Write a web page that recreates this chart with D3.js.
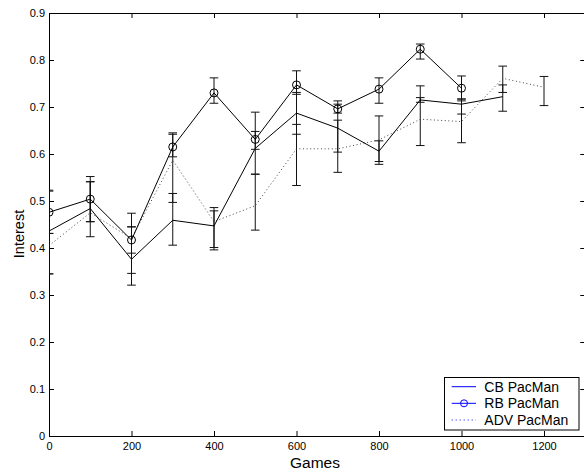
<!DOCTYPE html>
<html><head><meta charset="utf-8">
<script src="https://cdn.jsdelivr.net/npm/d3@7"></script>
<style>
html,body{margin:0;padding:0;background:#fff;}
svg{display:block;font-family:"Liberation Sans",Arial,Helvetica,sans-serif;}
</style></head>
<body><svg id="c" width="584" height="471"></svg>
<script>
// ---- data ----
const gamesCB  = [0,100,200,300,400,500,600,700,800,900,1000,1100];
const cbMean   = [0.436,0.484,0.376,0.459,0.447,0.612,0.687,0.655,0.606,0.715,0.706,0.722];
const cbLow    = [0.345,0.424,0.321,0.406,0.401,0.557,0.642,0.604,0.584,0.710,0.685,0.691];
const cbHigh   = [0.523,0.541,0.445,0.516,0.486,0.689,0.731,0.706,0.628,0.720,0.713,0.747];

const gamesRB  = [0,100,200,300,400,500,600,700,800,900,1000];
const rbMean   = [0.476,0.504,0.417,0.615,0.730,0.631,0.747,0.696,0.738,0.823,0.740];
const rbLow    = [0.431,0.456,0.346,0.594,0.708,0.610,0.727,0.687,0.708,0.802,0.717];
const rbHigh   = [0.521,0.552,0.474,0.645,0.762,0.648,0.777,0.713,0.762,0.834,0.766];

const gamesADV = [0,100,200,300,400,500,600,700,800,900,1000,1100,1200];
const advMean  = [0.405,0.475,0.420,0.587,0.456,0.490,0.611,0.611,0.630,0.674,0.669,0.761,0.742];
const advLow   = [0.345,0.456,0.389,0.497,0.396,0.438,0.533,0.561,0.578,0.618,0.624,0.731,0.703];
const advHigh  = [0.431,0.541,0.445,0.642,0.479,0.557,0.663,0.672,0.681,0.745,0.717,0.787,0.765];

const xTicks = [0,200,400,600,800,1000,1200];
const xTickLabels = ["0","200","400","600","800","1000","1200"];
const yTicks = [0,0.1,0.2,0.3,0.4,0.5,0.6,0.7,0.8,0.9];
const yTickLabels = ["0","0.1","0.2","0.3","0.4","0.5","0.6","0.7","0.8","0.9"];
const seriesNames = ["CB PacMan","RB PacMan","ADV PacMan"];

// ---- layout ----
const L = 49, R = 585.25, T = 13, B = 436;
const svg = d3.select("#c");
const x = d3.scaleLinear().domain([0,1300]).range([L,R]);
const y = d3.scaleLinear().domain([0,0.9]).range([B,T]);

svg.append("defs").append("clipPath").attr("id","clip")
  .append("rect").attr("x",L).attr("y",T).attr("width",R-L).attr("height",B-T);

// axes (box with inward ticks)
const fmtX = d => xTickLabels[xTicks.indexOf(d)];
const fmtY = d => yTickLabels[yTicks.findIndex(v => Math.abs(v-d)<1e-9)];
function styleAxis(g){
  g.selectAll(".domain").attr("stroke","#000").attr("stroke-width",1);
  g.selectAll(".tick line").attr("stroke","#000").attr("stroke-width",1);
  g.selectAll("text").attr("fill","#000").attr("font-size","11px")
   .attr("font-family","Liberation Sans, Arial, sans-serif");
}
svg.append("g").attr("transform",`translate(0,${B})`)
  .call(d3.axisBottom(x).tickValues(xTicks).tickFormat(fmtX).tickSize(-5).tickSizeOuter(0).tickPadding(6))
  .call(styleAxis);
svg.append("g").attr("transform",`translate(0,${T})`)
  .call(d3.axisTop(x).tickValues(xTicks).tickFormat("").tickSize(-5).tickSizeOuter(0))
  .call(styleAxis);
svg.append("g").attr("transform",`translate(${L},0)`)
  .call(d3.axisLeft(y).tickValues(yTicks).tickFormat(fmtY).tickSize(-5).tickSizeOuter(0).tickPadding(4))
  .call(styleAxis);
svg.append("g").attr("transform",`translate(${R},0)`)
  .call(d3.axisRight(y).tickValues(yTicks).tickFormat("").tickSize(-5).tickSizeOuter(0))
  .call(styleAxis);

// axis labels
svg.append("text").attr("x",315).attr("y",468).attr("text-anchor","middle")
  .attr("font-size","15.5px").attr("fill","#000").text("Games");
svg.append("text").attr("transform","translate(24,234) rotate(-90)").attr("text-anchor","middle")
  .attr("font-size","14.5px").attr("fill","#000").text("Interest");

// ---- data marks ----
const plot = svg.append("g").attr("clip-path","url(#clip)");
function rows(xs, m, lo, hi){ return xs.map((g,i)=>({g, m:m[i], lo:lo[i], hi:hi[i]})); }
const cb = rows(gamesCB, cbMean, cbLow, cbHigh);
const rb = rows(gamesRB, rbMean, rbLow, rbHigh);
const adv = rows(gamesADV, advMean, advLow, advHigh);
const line = d3.line().x(d=>x(d.g)).y(d=>y(d.m));
const cap = 4.3;

function errorBars(data){
  const g = plot.append("g").attr("stroke","#111").attr("stroke-width",1).attr("fill","none");
  data.forEach(d=>{
    g.append("line").attr("x1",x(d.g)).attr("x2",x(d.g)).attr("y1",y(d.lo)).attr("y2",y(d.hi));
    g.append("line").attr("x1",x(d.g)-cap).attr("x2",x(d.g)+cap).attr("y1",y(d.lo)).attr("y2",y(d.lo));
    g.append("line").attr("x1",x(d.g)-cap).attr("x2",x(d.g)+cap).attr("y1",y(d.hi)).attr("y2",y(d.hi));
  });
}
// ADV dotted
errorBars(adv);
plot.append("path").datum(adv).attr("d",line).attr("fill","none")
  .attr("stroke","#444").attr("stroke-width",1).attr("stroke-dasharray","1,2.6");
// CB solid
errorBars(cb);
plot.append("path").datum(cb).attr("d",line).attr("fill","none")
  .attr("stroke","#000").attr("stroke-width",1);
// RB solid with circles
errorBars(rb);
plot.append("path").datum(rb).attr("d",line).attr("fill","none")
  .attr("stroke","#000").attr("stroke-width",1);
plot.selectAll("circle.rb").data(rb).enter().append("circle").attr("class","rb")
  .attr("cx",d=>x(d.g)).attr("cy",d=>y(d.m)).attr("r",4)
  .attr("fill","none").attr("stroke","#000").attr("stroke-width",1);

// ---- legend ----
const lg = svg.append("g");
lg.append("rect").attr("x",444.5).attr("y",377.5).attr("width",134.5).attr("height",52.5)
  .attr("fill","#fff").attr("stroke","#000").attr("stroke-width",1);
const rowsY = [386.7,403.3,420];
seriesNames.forEach((name,i)=>{
  const yy = rowsY[i];
  const ln = lg.append("line").attr("x1",451.7).attr("x2",476).attr("y1",yy).attr("y2",yy)
    .attr("stroke","#0000ff").attr("stroke-width",1);
  if(i===2) ln.attr("stroke-dasharray","1,3");
  if(i===1) lg.append("circle").attr("cx",464).attr("cy",yy).attr("r",3.5)
    .attr("fill","none").attr("stroke","#0000ff").attr("stroke-width",1);
  lg.append("text").attr("x",484.3).attr("y",yy).attr("dy","0.36em")
    .attr("font-size","14px").attr("fill","#000").text(name);
});
</script></body></html>
